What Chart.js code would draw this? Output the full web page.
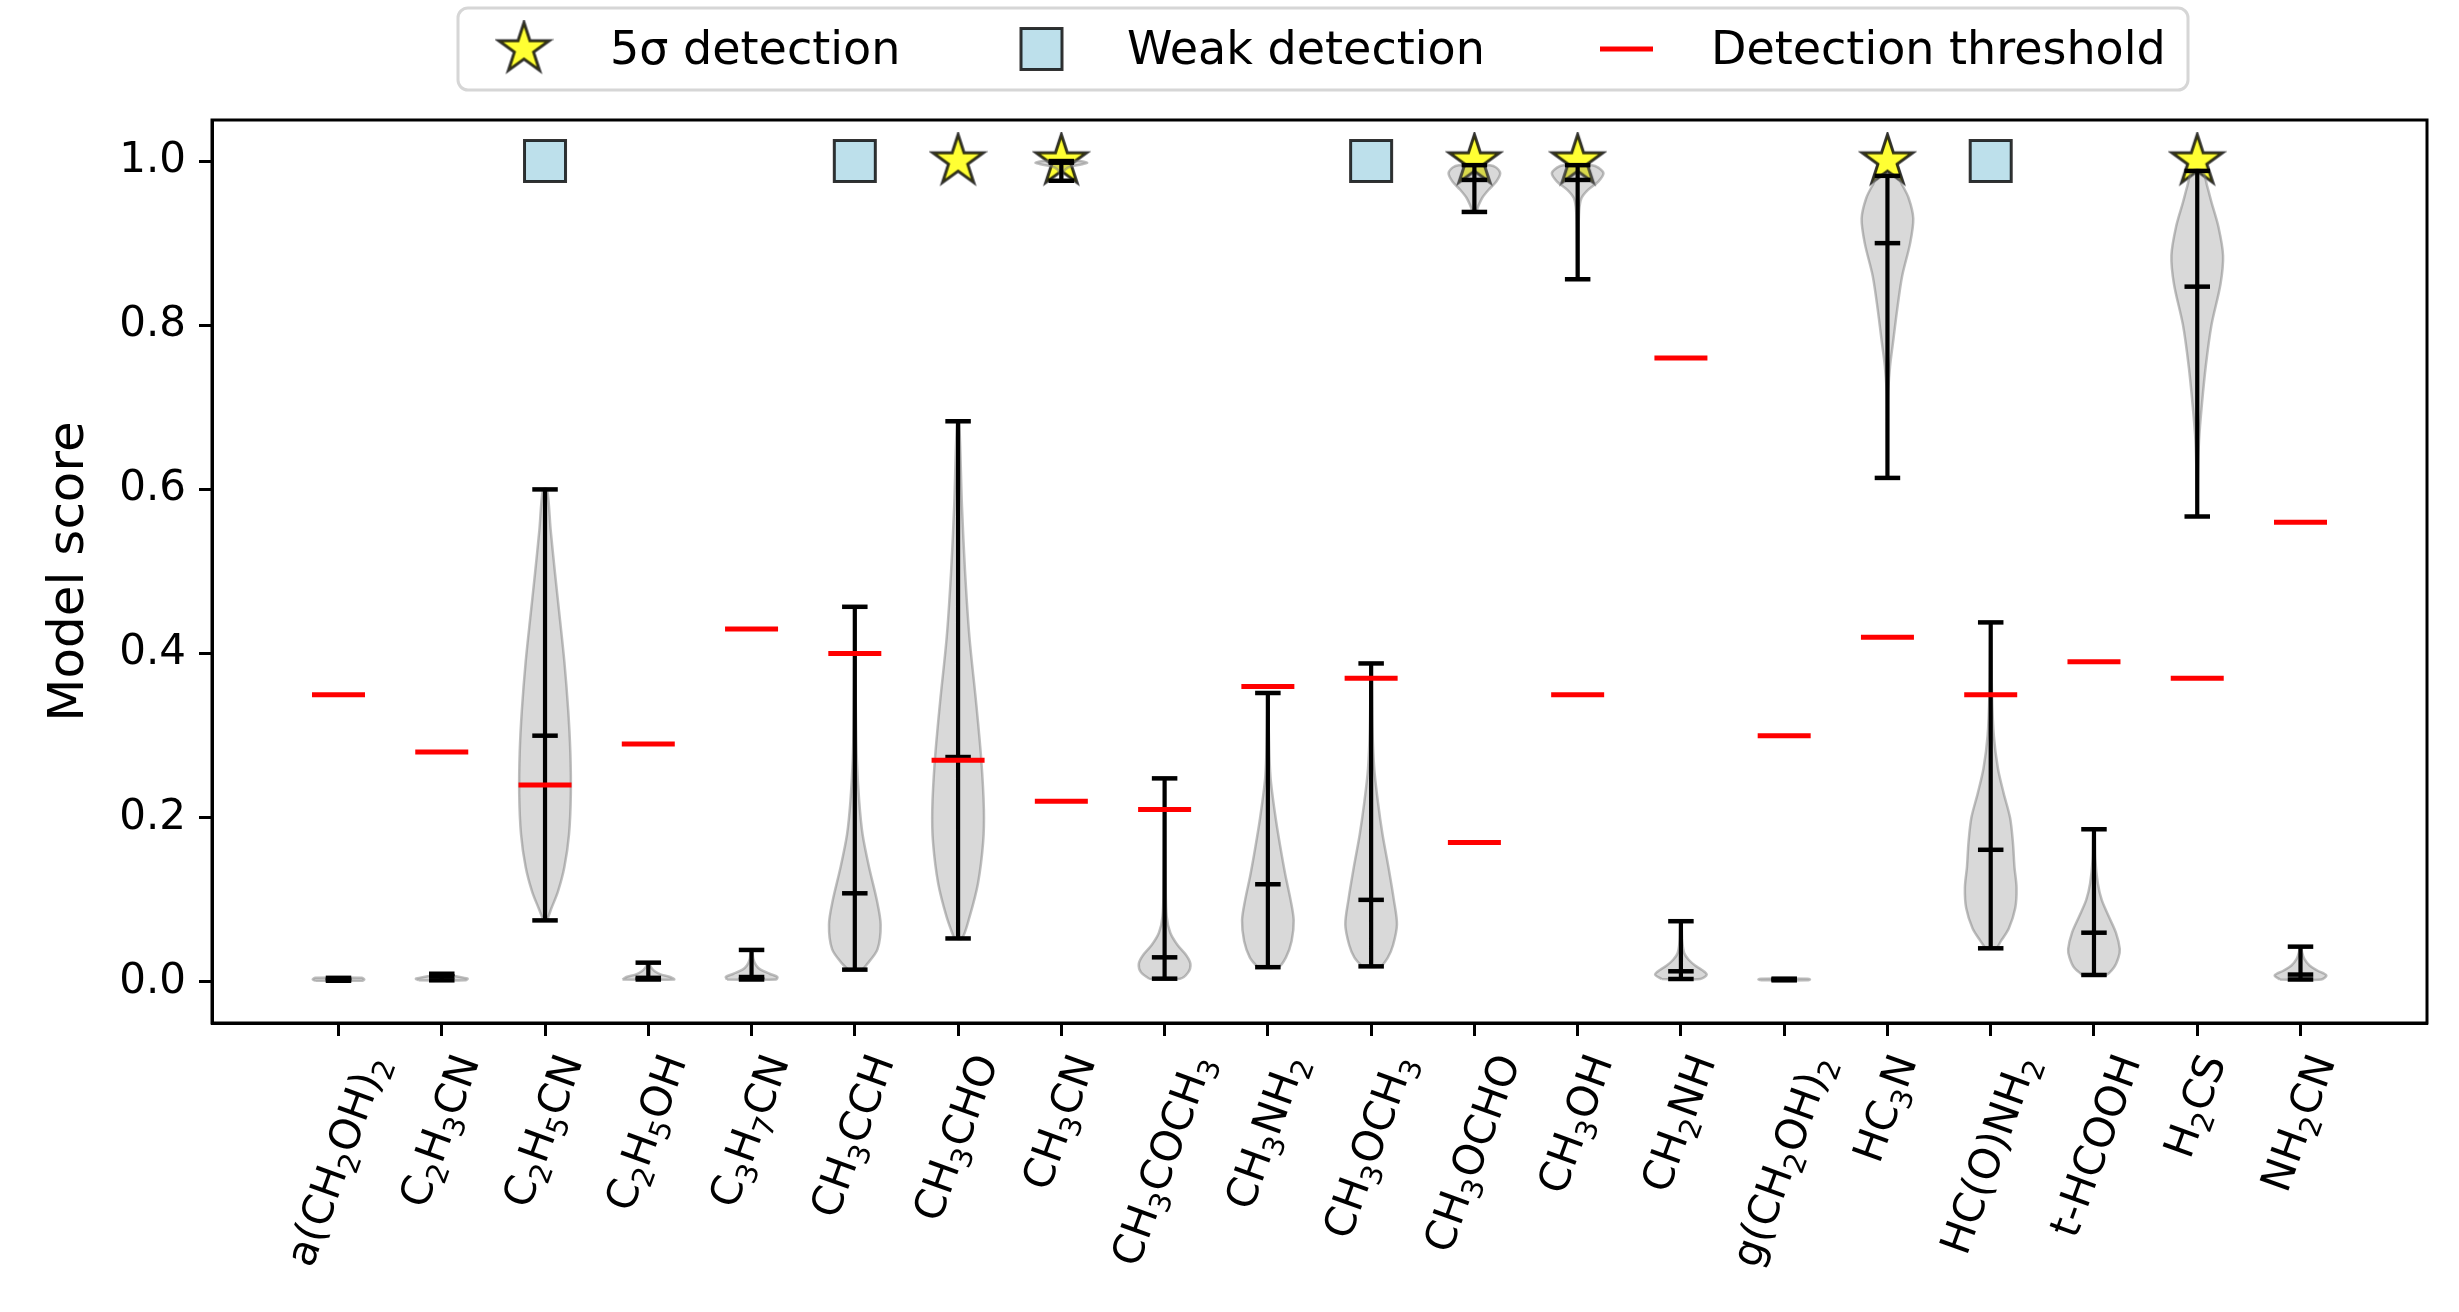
<!DOCTYPE html>
<html>
<head>
<meta charset="utf-8">
<title>Model score per molecule</title>
<script src="https://cdn.jsdelivr.net/npm/chart.js@4"></script>
<style>
    html, body { margin: 0; padding: 0; background: #fff; }
    canvas { display: block; }
</style>
</head>
<body>
<canvas id="scoreChart" width="2459" height="1312"></canvas>
<script>
// ========== DATA ==========
// "_" marks the next character as a subscript
const molecules = ['a(CH_2OH)_2', 'C_2H_3CN', 'C_2H_5CN', 'C_2H_5OH', 'C_3H_7CN', 'CH_3CCH', 'CH_3CHO', 'CH_3CN',
    'CH_3COCH_3', 'CH_3NH_2', 'CH_3OCH_3', 'CH_3OCHO', 'CH_3OH', 'CH_2NH', 'g(CH_2OH)_2', 'HC_3N',
    'HC(O)NH_2', 't-HCOOH', 'H_2CS', 'NH_2CN'];

const thresholds = [0.35, 0.28, 0.24, 0.29, 0.43, 0.40, 0.27, 0.22, 0.21, 0.36,
    0.37, 0.17, 0.35, 0.76, 0.30, 0.42, 0.35, 0.39, 0.37, 0.56];

const scoreMin = [0.0015, 0.002, 0.075, 0.003, 0.003, 0.015, 0.053, 0.976, 0.004, 0.018,
    0.019, 0.938, 0.856, 0.0036, 0.002, 0.614, 0.041, 0.0085, 0.567, 0.003];
const scoreMedian = [0.003, 0.007, 0.300, 0.005, 0.006, 0.108, 0.274, 0.998, 0.030, 0.119,
    0.100, 0.977, 0.977, 0.013, 0.003, 0.900, 0.161, 0.060, 0.847, 0.009];
const scoreMax = [0.005, 0.010, 0.600, 0.0235, 0.039, 0.457, 0.683, 1.000, 0.248, 0.352,
    0.388, 0.995, 0.995, 0.074, 0.004, 0.982, 0.438, 0.186, 0.988, 0.043];

const fiveSigma = ['CH_3CHO', 'CH_3CN', 'CH_3OCHO', 'CH_3OH', 'HC_3N', 'H_2CS'];
const weakDetection = ['C_2H_5CN', 'CH_3CCH', 'CH_3OCH_3', 'HC(O)NH_2'];
const detectionScore = 1.0;

// violin outlines, bottom to top: [score, relative half width]
const violinProfiles = [
    [[0.0015, 0.9], [0.003, 1.0], [0.005, 0.9]],
    [[0.002, 0.9], [0.004, 1.0], [0.006, 0.7], [0.008, 0.35], [0.010, 0.1]],
    [[0.075, 0.06], [0.09, 0.25], [0.11, 0.5], [0.14, 0.75], [0.18, 0.93], [0.23, 1.0], [0.28, 0.98],
        [0.33, 0.9], [0.39, 0.75], [0.45, 0.55], [0.5, 0.38], [0.55, 0.22], [0.6, 0.08]],
    [[0.003, 1.0], [0.006, 0.85], [0.009, 0.5], [0.013, 0.25], [0.018, 0.1], [0.0235, 0.03]],
    [[0.003, 0.95], [0.006, 1.0], [0.01, 0.7], [0.015, 0.35], [0.02, 0.18], [0.028, 0.07], [0.039, 0.02]],
    [[0.015, 0.25], [0.022, 0.48], [0.04, 0.88], [0.07, 1.0], [0.1, 0.85], [0.14, 0.55], [0.18, 0.3],
        [0.22, 0.17], [0.27, 0.08], [0.33, 0.04], [0.4, 0.02], [0.457, 0.01]],
    [[0.053, 0.15], [0.08, 0.45], [0.12, 0.77], [0.17, 0.97], [0.21, 1.0], [0.27, 0.9], [0.34, 0.7],
        [0.42, 0.44], [0.5, 0.27], [0.58, 0.15], [0.683, 0.04]],
    [[0.976, 0.02], [0.985, 0.05], [0.992, 0.25], [0.996, 0.8], [0.998, 1.0], [1.0, 0.7]],
    [[0.004, 0.6], [0.012, 0.92], [0.022, 1.0], [0.032, 0.85], [0.045, 0.5], [0.06, 0.22], [0.08, 0.08],
        [0.12, 0.04], [0.2, 0.02], [0.248, 0.01]],
    [[0.018, 0.4], [0.03, 0.7], [0.05, 0.92], [0.075, 1.0], [0.1, 0.88], [0.13, 0.68], [0.165, 0.48],
        [0.2, 0.3], [0.25, 0.1], [0.3, 0.04], [0.352, 0.01]],
    [[0.019, 0.35], [0.03, 0.65], [0.045, 0.85], [0.07, 1.0], [0.1, 0.88], [0.14, 0.67], [0.18, 0.44],
        [0.22, 0.26], [0.26, 0.12], [0.31, 0.05], [0.388, 0.01]],
    [[0.938, 0.06], [0.945, 0.15], [0.955, 0.3], [0.965, 0.55], [0.975, 0.85], [0.985, 1.0], [0.992, 0.85], [0.995, 0.6]],
    [[0.856, 0.02], [0.9, 0.03], [0.94, 0.06], [0.955, 0.15], [0.965, 0.4], [0.975, 0.8], [0.985, 1.0],
        [0.992, 0.8], [0.995, 0.55]],
    [[0.0036, 0.75], [0.009, 1.0], [0.015, 0.8], [0.02, 0.55], [0.027, 0.3], [0.035, 0.13], [0.05, 0.05], [0.074, 0.02]],
    [[0.002, 0.9], [0.003, 1.0], [0.004, 0.9]],
    [[0.614, 0.01], [0.7, 0.02], [0.72, 0.03], [0.75, 0.1], [0.78, 0.22], [0.82, 0.38], [0.86, 0.57],
        [0.9, 0.88], [0.93, 1.0], [0.955, 0.82], [0.972, 0.55], [0.982, 0.35]],
    [[0.041, 0.2], [0.05, 0.4], [0.065, 0.7], [0.09, 0.95], [0.115, 1.0], [0.14, 0.92], [0.17, 0.86],
        [0.2, 0.75], [0.23, 0.5], [0.26, 0.28], [0.3, 0.12], [0.35, 0.05], [0.438, 0.01]],
    [[0.0085, 0.45], [0.018, 0.78], [0.03, 0.95], [0.04, 1.0], [0.06, 0.85], [0.08, 0.57], [0.1, 0.3],
        [0.12, 0.15], [0.15, 0.05], [0.186, 0.02]],
    [[0.567, 0.01], [0.62, 0.03], [0.66, 0.07], [0.7, 0.17], [0.75, 0.33], [0.8, 0.55], [0.85, 0.9],
        [0.885, 1.0], [0.92, 0.82], [0.95, 0.55], [0.97, 0.38], [0.988, 0.2]],
    [[0.003, 0.8], [0.008, 1.0], [0.014, 0.65], [0.02, 0.35], [0.028, 0.15], [0.036, 0.06], [0.043, 0.02]]
];

const yTicks = [0, 0.2, 0.4, 0.6, 0.8, 1.0];

// ========== STYLE ==========
const FONT = '"DejaVu Sans"';
const VIOLIN_HALF = 0.25;
const STAR_FILL = 'rgba(255,255,0,0.8)';
const SQUARE_FILL = 'rgba(173,216,230,0.8)';
const MARKER_EDGE = 'rgba(0,0,0,0.8)';
const THRESHOLD_RED = '#ff0000';

// five-pointed star marker, drawn once and reused as a pointStyle
function makeStar(r, lw) {
    const size = Math.ceil(2 * r + 2 * lw);
    const c = document.createElement('canvas');
    c.width = c.height = size;
    const g = c.getContext('2d');
    g.translate(size / 2, size / 2);
    g.beginPath();
    for (let k = 0; k < 10; k++) {
        const rad = k % 2 ? r * 0.381966 : r;
        const a = -Math.PI / 2 + k * Math.PI / 5;
        g.lineTo(rad * Math.cos(a), rad * Math.sin(a));
    }
    g.closePath();
    g.fillStyle = STAR_FILL;
    g.fill();
    g.lineJoin = 'miter';
    g.lineWidth = lw;
    g.strokeStyle = MARKER_EDGE;
    g.stroke();
    return c;
}
const starImg = makeStar(26.5, 3);

// ========== DATASETS ==========
function violinOutline(i) {
    const prof = violinProfiles[i];
    const left = prof.map(([v, w]) => ({ x: i - w * VIOLIN_HALF, y: v }));
    const right = prof.slice().reverse().map(([v, w]) => ({ x: i + w * VIOLIN_HALF, y: v }));
    return left.concat(right, [left[0]]);
}

const violinSets = molecules.map((m, i) => ({
    type: 'line',
    label: m,
    data: violinOutline(i),
    fill: 'shape',
    backgroundColor: 'rgba(128,128,128,0.3)',
    borderColor: 'rgba(128,128,128,0.5)',
    borderWidth: 2.5,
    pointRadius: 0,
    tension: 0.3,
    order: 3
}));

const whiskerPoints = [];
molecules.forEach((m, i) => {
    whiskerPoints.push({ x: i, y: scoreMin[i] }, { x: i, y: scoreMax[i] }, { x: i, y: null });
});

const capPoints = [];
molecules.forEach((m, i) => {
    capPoints.push({ x: i, y: scoreMin[i] }, { x: i, y: scoreMedian[i] }, { x: i, y: scoreMax[i] });
});

const datasets = [
    {
        type: 'scatter',
        label: 'Detection threshold',
        data: thresholds.map((t, i) => ({ x: i, y: t })),
        pointStyle: 'line',
        pointRadius: 26.5,
        borderWidth: 5,
        borderColor: THRESHOLD_RED,
        pointBorderColor: THRESHOLD_RED,
        order: 0
    },
    {
        type: 'scatter',
        label: 'caps',
        data: capPoints,
        pointStyle: 'line',
        pointRadius: 12.75,
        borderWidth: 4.5,
        borderColor: '#000',
        pointBorderColor: '#000',
        order: 1
    },
    {
        type: 'line',
        label: 'range',
        data: whiskerPoints,
        borderColor: '#000',
        borderWidth: 4.2,
        pointRadius: 0,
        fill: false,
        spanGaps: false,
        tension: 0,
        order: 2
    },
    ...violinSets,
    {
        type: 'scatter',
        label: 'Weak detection',
        data: weakDetection.map(m => ({ x: molecules.indexOf(m), y: detectionScore })),
        pointStyle: 'rect',
        pointRadius: 29,
        backgroundColor: SQUARE_FILL,
        borderColor: MARKER_EDGE,
        borderWidth: 3,
        order: 4
    },
    {
        type: 'scatter',
        label: '5σ detection',
        data: fiveSigma.map(m => ({ x: molecules.indexOf(m), y: detectionScore })),
        pointStyle: starImg,
        pointRadius: 27,
        order: 4
    }
];

// ========== TEXT HELPERS ==========
function parseFormula(label) {
    const parts = [];
    for (let k = 0; k < label.length; k++) {
        if (label[k] === '_') { parts.push({ text: label[++k], sub: true }); continue; }
        const last = parts[parts.length - 1];
        if (last && !last.sub) last.text += label[k];
        else parts.push({ text: label[k], sub: false });
    }
    return parts;
}

const LABEL_PX = 42, SUB_PX = 29, SUB_DROP = 9;
const LABEL_ANGLE = 70 * Math.PI / 180;

// rotated label, bounding box centred on the tick, top edge at `top`
function drawFormula(ctx, label, cx, top) {
    const parts = parseFormula(label);
    let W = 0, A = 0, D = 0;
    parts.forEach(p => {
        ctx.font = `${p.sub ? SUB_PX : LABEL_PX}px ${FONT}`;
        const m = ctx.measureText(p.text);
        const drop = p.sub ? SUB_DROP : 0;
        p.w = m.width;
        A = Math.max(A, m.actualBoundingBoxAscent - drop);
        D = Math.max(D, m.actualBoundingBoxDescent + drop);
        W += p.w;
    });
    const bh = W * Math.sin(LABEL_ANGLE) + (A + D) * Math.cos(LABEL_ANGLE);
    ctx.save();
    ctx.translate(cx, top + bh / 2);
    ctx.rotate(-LABEL_ANGLE);
    ctx.textAlign = 'left';
    ctx.textBaseline = 'alphabetic';
    ctx.fillStyle = '#000';
    let x = -W / 2;
    const base = (A - D) / 2;
    parts.forEach(p => {
        ctx.font = `${p.sub ? SUB_PX : LABEL_PX}px ${FONT}`;
        ctx.fillText(p.text, x, base + (p.sub ? SUB_DROP : 0));
        x += p.w;
    });
    ctx.restore();
}

function roundRectPath(ctx, x, y, w, h, r) {
    ctx.beginPath();
    ctx.moveTo(x + r, y);
    ctx.arcTo(x + w, y, x + w, y + h, r);
    ctx.arcTo(x + w, y + h, x, y + h, r);
    ctx.arcTo(x, y + h, x, y, r);
    ctx.arcTo(x, y, x + w, y, r);
    ctx.closePath();
}

// ========== PLUGINS ==========
const framePlugin = {
    id: 'frame',
    afterDatasetsDraw(chart) {
        const { ctx, chartArea: a } = chart;
        ctx.save();
        ctx.strokeStyle = '#000';
        ctx.lineWidth = 3;
        ctx.strokeRect(a.left, a.top, a.right - a.left, a.bottom - a.top);
        ctx.restore();
    }
};

const moleculeLabels = {
    id: 'moleculeLabels',
    afterDraw(chart) {
        const { ctx, chartArea } = chart;
        const xs = chart.scales.x;
        const top = chartArea.bottom + 13 + 14;
        molecules.forEach((m, i) => drawFormula(ctx, m, xs.getPixelForValue(i), top));
    }
};

const legendBox = {
    id: 'legendBox',
    afterDraw(chart) {
        const ctx = chart.ctx;
        const cy = 49, baseline = 64;
        ctx.save();
        roundRectPath(ctx, 458, 8, 1730, 82, 10);
        ctx.fillStyle = 'rgba(255,255,255,0.8)';
        ctx.fill();
        ctx.strokeStyle = '#d6d6d6';
        ctx.lineWidth = 3;
        ctx.stroke();

        // markers
        ctx.drawImage(starImg, 524 - starImg.width / 2, cy - starImg.height / 2);
        ctx.fillStyle = SQUARE_FILL;
        ctx.fillRect(1021, cy - 20.5, 41, 41);
        ctx.strokeStyle = MARKER_EDGE;
        ctx.lineWidth = 3;
        ctx.strokeRect(1021, cy - 20.5, 41, 41);
        ctx.strokeStyle = THRESHOLD_RED;
        ctx.lineWidth = 5;
        ctx.beginPath();
        ctx.moveTo(1600, cy);
        ctx.lineTo(1653, cy);
        ctx.stroke();

        // texts
        ctx.fillStyle = '#000';
        ctx.textAlign = 'left';
        ctx.textBaseline = 'alphabetic';
        ctx.font = `46px ${FONT}`;
        ctx.fillText('5σ detection', 610, baseline);
        ctx.fillText('Weak detection', 1127, baseline);
        ctx.fillText('Detection threshold', 1711, baseline);
        ctx.restore();
    }
};

// ========== CHART ==========
Chart.defaults.font.family = FONT;
Chart.defaults.color = '#000';

const tickGrid = {
    drawOnChartArea: false,
    drawTicks: true,
    tickLength: 13,
    tickWidth: 3,
    tickColor: '#000',
    color: '#000'
};

new Chart(document.getElementById('scoreChart').getContext('2d'), {
    type: 'scatter',
    data: { datasets },
    options: {
        responsive: false,
        devicePixelRatio: 1,
        animation: false,
        events: [],
        layout: { padding: { top: 120, right: 24, left: 0, bottom: 0 } },
        plugins: {
            legend: { display: false },
            tooltip: { enabled: false }
        },
        scales: {
            x: {
                type: 'linear',
                min: -1.225,
                max: molecules.length - 1 + 1.225,
                afterBuildTicks: s => { s.ticks = molecules.map((m, i) => ({ value: i })); },
                afterFit: s => { s.height = 289; },
                ticks: { display: false },
                grid: tickGrid,
                border: { display: true, color: '#000', width: 3 }
            },
            y: {
                type: 'linear',
                min: -0.05,
                max: 1.05,
                afterBuildTicks: s => { s.ticks = yTicks.map(v => ({ value: v })); },
                afterFit: s => { s.width = 212; },
                ticks: {
                    font: { family: FONT, size: 42 },
                    color: '#000',
                    padding: 13,
                    callback: v => Number(v).toFixed(1)
                },
                grid: tickGrid,
                border: { display: true, color: '#000', width: 3 },
                title: {
                    display: true,
                    text: 'Model score',
                    color: '#000',
                    font: { family: FONT, size: 50, lineHeight: 1.2 },
                    padding: { top: 40, bottom: 0 }
                }
            }
        }
    },
    plugins: [framePlugin, moleculeLabels, legendBox]
});
</script>
</body>
</html>
